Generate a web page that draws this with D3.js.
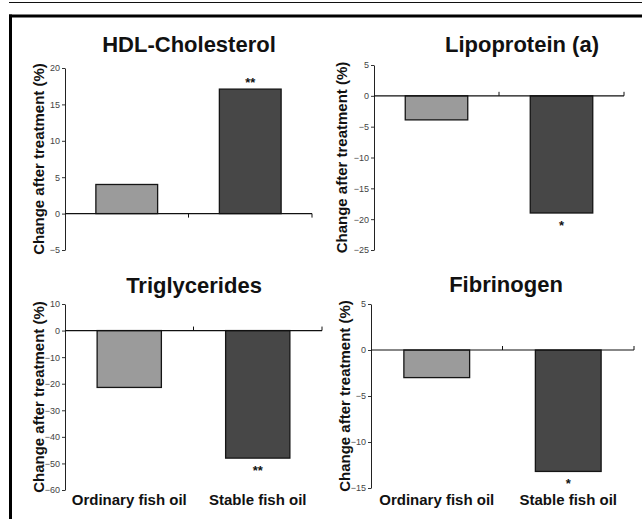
<!DOCTYPE html>
<html>
<head>
<meta charset="utf-8">
<script src="https://cdn.jsdelivr.net/npm/d3@7"></script>
<style>
  body { margin: 0; background: #fff; }
  svg { display: block; font-family: "Liberation Sans", Arial, sans-serif; }
</style>
</head>
<body>
<div id="chart"></div>
<script>
// values
const categories = ["Ordinary fish oil", "Stable fish oil"];
const titles = ["HDL-Cholesterol", "Lipoprotein (a)", "Triglycerides", "Fibrinogen"];
const hdlValues = [4, 17.1];
const lpaValues = [-3.9, -19];
const tgValues = [-21.4, -48];
const fibValues = [-3, -13.2];
const hdlTicks = [-5, 0, 5, 10, 15, 20];
const lpaTicks = [-25, -20, -15, -10, -5, 0, 5];
const tgTicks = [-60, -50, -40, -30, -20, -10, 0, 10];
const fibTicks = [-15, -10, -5, 0, 5];
const stars = ["**", "*", "**", "*"];

const W = 642, H = 519;
const barColors = ["#9b9b9b", "#474747"];

// layout of the four panels
const panels = [
  { values: hdlValues, ticks: hdlTicks, x0: 65, x1: 312, yTop: 68, yBot: 250, tx: 189, ty: 52, lx: 44, tickDir: 1, showCats: false },
  { values: lpaValues, ticks: lpaTicks, x0: 374, x1: 624, yTop: 65, yBot: 250, tx: 522, ty: 52, lx: 347, tickDir: -1, showCats: false },
  { values: tgValues, ticks: tgTicks, x0: 65, x1: 322, yTop: 304, yBot: 490, tx: 194, ty: 293, lx: 44, tickDir: -1, showCats: true },
  { values: fibValues, ticks: fibTicks, x0: 371, x1: 634, yTop: 304, yBot: 488, tx: 506, ty: 292, lx: 350, tickDir: -1, showCats: true }
];

const svg = d3.select("#chart").append("svg")
  .attr("width", W)
  .attr("height", H)
  .attr("viewBox", [0, 0, W, H]);

// frame lines
svg.append("line").attr("x1", 9).attr("x2", W).attr("y1", 2.5).attr("y2", 2.5)
  .attr("stroke", "#111").attr("stroke-width", 1);
svg.append("line").attr("x1", 9).attr("x2", W).attr("y1", 16).attr("y2", 16)
  .attr("stroke", "#000").attr("stroke-width", 3);
svg.append("line").attr("x1", 10.5).attr("x2", 10.5).attr("y1", 14.5).attr("y2", H)
  .attr("stroke", "#000").attr("stroke-width", 3);

panels.forEach((p, i) => {
  const g = svg.append("g");

  const x = d3.scaleBand()
    .domain(categories)
    .range([p.x0, p.x1])
    .paddingInner(0.5)
    .paddingOuter(0.25);

  const y = d3.scaleLinear()
    .domain(d3.extent(p.ticks))
    .range([p.yBot, p.yTop]);

  // y axis
  g.append("g")
    .attr("transform", `translate(${p.x0},0)`)
    .call(d3.axisLeft(y).tickValues(p.ticks).tickSize(3).tickSizeOuter(0).tickPadding(2))
    .call(a => a.select(".domain").attr("stroke", "#222"))
    .call(a => a.selectAll(".tick line").attr("stroke", "#333"))
    .call(a => a.selectAll(".tick text")
      .attr("fill", "#444")
      .style("font-size", "9px")
      .style("font-family", "'Liberation Sans', Arial, sans-serif"));

  // bars
  g.selectAll(".bar")
    .data(p.values)
    .join("rect")
    .attr("class", "bar")
    .attr("x", (d, j) => x(categories[j]))
    .attr("width", x.bandwidth())
    .attr("y", d => y(Math.max(0, d)))
    .attr("height", d => Math.abs(y(d) - y(0)))
    .attr("fill", (d, j) => barColors[j])
    .attr("stroke", "#151515")
    .attr("stroke-width", 1.3);

  // zero line with small ticks at the band boundary and the end
  const y0 = y(0);
  g.append("line")
    .attr("x1", p.x0).attr("x2", p.x1)
    .attr("y1", y0).attr("y2", y0)
    .attr("stroke", "#111").attr("stroke-width", 1.2);
  const mid = x(categories[1]) - x.step() * x.paddingInner() / 2;
  g.selectAll(".xtick")
    .data([mid, p.x1])
    .join("line")
    .attr("class", "xtick")
    .attr("x1", d => d).attr("x2", d => d)
    .attr("y1", y0).attr("y2", y0 + 4 * p.tickDir)
    .attr("stroke", "#111").attr("stroke-width", 1);

  // significance marks on the stable fish oil bar
  const v = p.values[1];
  g.append("text")
    .attr("x", x(categories[1]) + x.bandwidth() / 2)
    .attr("y", v > 0 ? y(v) - 2 : y(v) + 17)
    .attr("text-anchor", "middle")
    .style("font-size", "13px")
    .style("font-weight", "bold")
    .attr("fill", "#111")
    .text(stars[i]);

  // title
  g.append("text")
    .attr("x", p.tx)
    .attr("y", p.ty)
    .attr("text-anchor", "middle")
    .style("font-size", "22px")
    .style("font-weight", "bold")
    .attr("fill", "#111")
    .text(titles[i]);

  // y label
  g.append("text")
    .attr("transform", `translate(${p.lx},${(p.yTop + p.yBot) / 2}) rotate(-90)`)
    .attr("text-anchor", "middle")
    .style("font-size", "15px")
    .style("font-weight", "bold")
    .attr("fill", "#111")
    .text("Change after treatment (%)");

  // category labels
  if (p.showCats) {
    g.selectAll(".cat")
      .data(categories)
      .join("text")
      .attr("class", "cat")
      .attr("x", d => x(d) + x.bandwidth() / 2)
      .attr("y", 505)
      .attr("text-anchor", "middle")
      .style("font-size", "15px")
      .style("font-weight", "bold")
      .attr("fill", "#111")
      .text(d => d);
  }
});
</script>
</body>
</html>
